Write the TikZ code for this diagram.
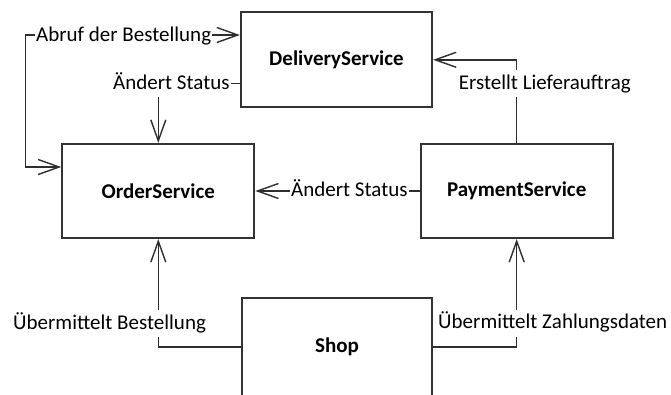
\documentclass[tikz,border=0pt]{standalone}
\usepackage{fontspec}
\setmainfont{Carlito}
\usetikzlibrary{arrows.meta}
\begin{document}
\begin{tikzpicture}[x=1pt,y=-1pt,
  >={Straight Barb[length=21pt,width=15pt]},
  svc/.style={draw=black!80, line width=2.2pt, rectangle, inner sep=0pt,
    minimum width=192pt, minimum height=95pt,
    font=\fontsize{21}{25}\selectfont\bfseries},
  conn/.style={draw=black!82, line width=1.4pt, ->},
  lbl/.style={fill=white, anchor=base west, inner xsep=1pt, inner ysep=0pt,
    text height=19pt, text depth=8pt, font=\fontsize{21}{25}\selectfont}]
  \useasboundingbox (0,0) rectangle (671,394);

  % services
  \node[svc, minimum width=191pt] (delivery) at (336.5,59.8) {DeliveryService};
  \node[svc, minimum height=94pt] (order)    at (158.3,191) {OrderService};
  \node[svc, minimum height=94pt] (payment)  at (516.7,191) {PaymentService};
  \node[svc, minimum width=190pt, minimum height=98pt] (shop) at (337,347) {Shop};

  % corner of the loop on the left
  \coordinate (loopx) at (25.5,100);

  % connectors
  \draw[conn, <->] ([yshift=24pt]order.west) -| (loopx) |- ([yshift=24.8pt]delivery.west);
  \draw[conn] ([yshift=-23.5pt]delivery.west) -| (order.north);
  \draw[conn] (payment.west) -- (order.east);
  \draw[conn] (payment.north) |- (delivery.east);
  \draw[conn] (shop.west) -| (order.south);
  \draw[conn] (shop.east) -| (payment.south);

  % connector labels
  \node[lbl] (l1) at (35,41.5)    {Abruf der Bestellung};
  \node[lbl] (l2) at (112,89)     {Ändert Status};
  \node[lbl] (l3) at (290,196.5)  {Ändert Status};
  \node[lbl] (l4) at (457.7,89.3) {Erstellt Lieferauftrag};
  \node[lbl] (l5) at (12,329)     {Übermittelt Bestellung};
  \node[lbl] (l6) at (437,328.5)  {Übermittelt Zahlungsdaten};
\end{tikzpicture}
\end{document}
